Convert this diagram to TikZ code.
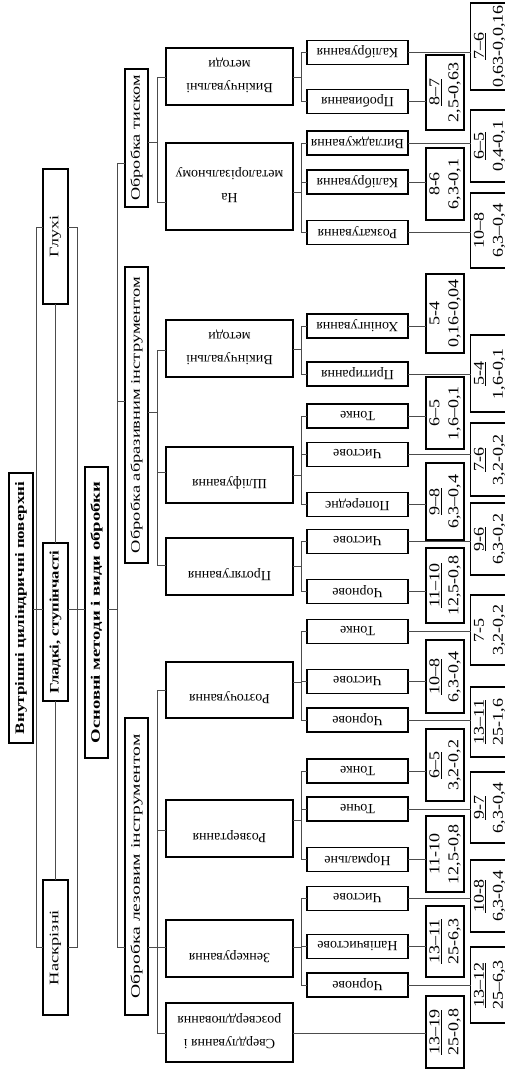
\documentclass[tikz,border=0pt]{standalone}
\usepackage{fontspec}
\setmainfont{Liberation Serif}
\usepackage{graphicx}
\newcommand\vfit[2]{\rotatebox{90}{\resizebox{#1}{\height}{#2}}}
\newcommand\ud[1]{\rotatebox[origin=c]{180}{#1}}
\newcommand\udm[1]{\ud{#1}\rule{0pt}{25pt}}
\newcommand\udd[2]{\rotatebox[origin=c]{180}{\begin{tabular}{@{}c@{}}#1\\#2\end{tabular}}}
\newcommand\nfr[2]{\rotatebox{90}{\scalebox{1.2}[1]{\begin{tabular}{@{}c@{}}\underline{#1}\\#2\end{tabular}}}}
\newcommand\npl[2]{\rotatebox{90}{\scalebox{1.2}[1]{\begin{tabular}{@{}c@{}}#1\\#2\end{tabular}}}}
\begin{document}
\begin{tikzpicture}[x=1pt,y=-1pt,
  bx/.style={draw=black,line width=1.4pt,fill=white,inner sep=0pt,outer sep=0pt},
  sz/.style 2 args={minimum width=#1,minimum height=#2},
  lab/.style={bx,font=\fontsize{13}{15}\selectfont},
  labb/.style={bx,font=\fontsize{13}{15}\selectfont\bfseries},
  meth/.style={bx,sz={127pt}{#1},font=\fontsize{14}{23}\selectfont},
  op/.style={bx,sz={101pt}{24pt},font=\fontsize{14}{17}\selectfont},
  nin/.style={bx,sz={36pt}{#1},font=\fontsize{15}{19}\selectfont},
  nout/.style={bx,sz={35pt}{#1},font=\fontsize{15}{19}\selectfont},
  conn/.style={draw=black!70,line width=0.8pt}]
\useasboundingbox (0,0) rectangle (504,1070);

% level 1-4
\node[labb,sz={24pt}{270pt}] (root) at (21,608) {\vfit{252pt}{Внутрішні циліндричні поверхні}};
\node[lab,sz={25pt}{135pt}] (glukhi) at (55.5,236.5) {\vfit{41pt}{Глухі}};
\node[labb,sz={25pt}{158pt}] (gladki) at (55.5,622) {\vfit{143pt}{Гладкі, ступінчасті}};
\node[lab,sz={25pt}{135pt}] (naskr) at (55.5,947.5) {\vfit{75pt}{Наскрізні}};
\node[labb,sz={23pt}{291pt}] (osn) at (96.5,612.5) {\vfit{262pt}{Основні методи і види обробки}};
\node[lab,sz={23pt}{138pt}] (tisk) at (136.5,138) {\vfit{125pt}{Обробка тиском}};
\node[lab,sz={23pt}{296pt}] (abr) at (136.5,415) {\vfit{276pt}{Обробка абразивним інструментом}};
\node[lab,sz={23pt}{297pt}] (lez) at (136.5,866.5) {\vfit{264pt}{Обробка лезовим інструментом}};

% methods
\node[meth=57pt] (vyk1) at (229.5,76.5) {\udd{Викінчувальні}{методи}};
\node[meth=87pt] (nametal) at (229.5,186.5) {\ud{\begin{tabular}{@{}c@{}}На\\металорізальному\\ \end{tabular}}};
\node[meth=57pt] (vyk2) at (229.5,348.5) {\udd{Викінчувальні}{методи}};
\node[meth=56pt] (shlif) at (229.5,475) {\udm{Шліфування}};
\node[meth=57pt] (protyah) at (229.5,566.5) {\udm{Протягування}};
\node[meth=56pt] (rozt) at (229.5,690) {\udm{Розточування}};
\node[meth=57pt] (rozv) at (229.5,828.5) {\udm{Розвертання}};
\node[meth=57pt] (zenk) at (229.5,948.5) {\udm{Зенкерування}};
\node[meth=59pt] (sverd) at (229.5,1032.5) {\udd{Свердлування і}{розсвердлювання}};

% operations
\node[op] (kal1) at (357.5,52.5) {\ud{Калібрування}};
\node[op] (prob) at (357.5,101.5) {\ud{Пробивання}};
\node[op] (vyhl) at (357.5,143) {\ud{Вигладжування}};
\node[op] (kal2) at (357.5,182) {\ud{Калібрування}};
\node[op] (rozk) at (357.5,232.5) {\ud{Розкатування}};
\node[op] (khon) at (357.5,326) {\ud{Хонінгування}};
\node[op] (pryt) at (357.5,374) {\ud{Притирання}};
\node[op] (tonke1) at (357.5,416) {\ud{Тонке}};
\node[op] (chyst1) at (357.5,454.5) {\ud{Чистове}};
\node[op] (poper) at (357.5,504.5) {\ud{Попереднє}};
\node[op] (chyst2) at (357.5,541.5) {\ud{Чистове}};
\node[op] (chorn2) at (357.5,591.5) {\ud{Чорнове}};
\node[op] (tonke3) at (357.5,631.5) {\ud{Тонке}};
\node[op] (chyst3) at (357.5,681.5) {\ud{Чистове}};
\node[op] (chorn3) at (357.5,720) {\ud{Чорнове}};
\node[op] (tonke4) at (357.5,771) {\ud{Тонке}};
\node[op] (tochne) at (357.5,809) {\ud{Точне}};
\node[op] (norm) at (357.5,859.5) {\ud{Нормальне}};
\node[op] (chyst5) at (357.5,898.5) {\ud{Чистове}};
\node[op] (napiv) at (357.5,946.5) {\ud{Напівчистове}};
\node[op] (chorn5) at (357.5,985) {\ud{Чорнове}};

% quality / roughness
\node[nout=87pt] (n76) at (489.5,46.5) {\nfr{7–6}{0,63-0,0,16}};
\node[nin=75pt] (n87) at (445,92.5) {\nfr{8–7}{2,5-0,63}};
\node[nout=72pt] (n65a) at (489.5,146) {\nfr{6–5}{0,4-0,1}};
\node[nin=72pt] (n86) at (445,184) {\npl{8-6}{6,3-0,1}};
\node[nout=75pt] (n108a) at (489.5,230.5) {\npl{10–8}{6,3–0,4}};
\node[nin=79pt] (n54a) at (445,313.5) {\npl{5-4}{0,16-0,04}};
\node[nout=77pt] (n54b) at (489.5,373.5) {\nfr{5-4}{1,6-0,1}};
\node[nin=72pt] (n65b) at (445,413) {\npl{6–5}{1,6–0,1}};
\node[nout=73pt] (n76b) at (489.5,459.5) {\nfr{7-6}{3,2-0,2}};
\node[nin=77pt] (n98) at (445,501.5) {\nfr{9–8}{6,3–0,4}};
\node[nout=72pt] (n96) at (489.5,539) {\nfr{9-6}{6,3-0,2}};
\node[nin=75pt] (n1110a) at (445,585.5) {\nfr{11–10}{12,5-0,8}};
\node[nout=70pt] (n75) at (489.5,630) {\npl{7-5}{3,2-0,2}};
\node[nin=73pt] (n108b) at (445,676.5) {\nfr{10–8}{6,3-0,4}};
\node[nout=70pt] (n1311a) at (489.5,722) {\nfr{13–11}{25-1,6}};
\node[nin=72pt] (n65c) at (445,765) {\nfr{6–5}{3,2-0,2}};
\node[nout=71pt] (n97) at (489.5,807.5) {\nfr{9-7}{6,3-0,4}};
\node[nin=76pt] (n1110b) at (445,854) {\npl{11-10}{12,5-0,8}};
\node[nout=72pt] (n108c) at (489.5,896) {\nfr{10-8}{6,3-0,4}};
\node[nin=71pt] (n1311b) at (445,941.5) {\nfr{13–11}{25-6,3}};
\node[nout=76pt] (n1312) at (489.5,985) {\nfr{13–12}{25–6,3}};
\node[nin=72pt] (n1319) at (445,1032) {\nfr{13–19}{25-0,8}};

% connectors level 1-4
\draw[conn] (root.east |- 0,609) -- (gladki.west |- 0,609);
\draw[conn] (gladki.east |- 0,609) -- (osn.west |- 0,609);
\draw[conn] (glukhi.west |- 0,227) -- ++(-7,0) |- (naskr.west |- 0,947);
\draw[conn] (glukhi.east |- 0,227) -- ++(9,0) |- (naskr.east |- 0,947);
\draw[conn] (glukhi.south) -- (gladki.north);
\draw[conn] (gladki.south) -- (naskr.north);
\draw[conn] (osn.east |- 0,609) -- ++(9,0);
\draw[conn] (tisk.west |- 0,163) -- ++(-8,0) |- (lez.west |- 0,947);
\draw[conn] (abr.west |- 0,401) -- ++(-8,0);

% level 4-5
\draw[conn] (tisk.east |- 0,142) -- ++(9,0);
\draw[conn] (vyk1.west |- 0,77) -- ++(-9,0) |- (nametal.west |- 0,202);
\draw[conn] (abr.east |- 0,412) -- ++(9,0);
\draw[conn] (vyk2.west |- 0,350) -- ++(-9,0) |- (protyah.west |- 0,565);
\draw[conn] (shlif.west |- 0,472) -- ++(-9,0);
\draw[conn] (rozt.west |- 0,690) -- ++(-9,0) |- (sverd.west |- 0,1033);
\draw[conn] (rozv.west |- 0,830) -- ++(-9,0);
\draw[conn] (lez.east |- 0,947) -- (zenk.west |- 0,947);

% level 5-6
\draw[conn] (vyk1.east |- 0,77) -- ++(8,0);
\draw[conn] (kal1.west) -- ++(-6,0) |- (prob.west);
\draw[conn] (nametal.east |- 0,192) -- ++(8,0);
\draw[conn] (vyhl.west) -- ++(-6,0) |- (rozk.west);
\draw[conn] (kal2.west) -- ++(-6,0);
\draw[conn] (vyk2.east |- 0,349) -- ++(8,0);
\draw[conn] (khon.west) -- ++(-6,0) |- (pryt.west);
\draw[conn] (shlif.east |- 0,475) -- ++(8,0);
\draw[conn] (tonke1.west) -- ++(-6,0) |- (poper.west);
\draw[conn] (chyst1.west) -- ++(-6,0);
\draw[conn] (protyah.east |- 0,566) -- ++(8,0);
\draw[conn] (chyst2.west) -- ++(-6,0) |- (chorn2.west);
\draw[conn] (rozt.east |- 0,682) -- ++(8,0);
\draw[conn] (tonke3.west) -- ++(-6,0) |- (chorn3.west);
\draw[conn] (chyst3.west) -- ++(-6,0);
\draw[conn] (rozv.east |- 0,820) -- ++(8,0);
\draw[conn] (tonke4.west) -- ++(-6,0) |- (norm.west);
\draw[conn] (tochne.west) -- ++(-6,0);
\draw[conn] (zenk.east |- 0,947) -- ++(8,0);
\draw[conn] (chyst5.west) -- ++(-6,0) |- (chorn5.west);
\draw[conn] (napiv.west) -- ++(-6,0);
\draw[conn] (sverd.east |- 0,1033) -- (n1319.west |- 0,1033);

% level 6-7
\draw[conn] (kal1.east) -- (n76.west |- kal1.east);
\draw[conn] (prob.east) -- (n87.west |- prob.east);
\draw[conn] (vyhl.east) -- (n65a.west |- vyhl.east);
\draw[conn] (kal2.east) -- (n86.west |- kal2.east);
\draw[conn] (rozk.east) -- (n108a.west |- rozk.east);
\draw[conn] (khon.east) -- (n54a.west |- khon.east);
\draw[conn] (pryt.east) -- (n54b.west |- pryt.east);
\draw[conn] (tonke1.east) -- (n65b.west |- tonke1.east);
\draw[conn] (chyst1.east) -- (n76b.west |- chyst1.east);
\draw[conn] (poper.east) -- (n98.west |- poper.east);
\draw[conn] (chyst2.east) -- (n96.west |- chyst2.east);
\draw[conn] (chorn2.east) -- (n1110a.west |- chorn2.east);
\draw[conn] (tonke3.east) -- (n75.west |- tonke3.east);
\draw[conn] (chyst3.east) -- (n108b.west |- chyst3.east);
\draw[conn] (chorn3.east) -- (n1311a.west |- chorn3.east);
\draw[conn] (tonke4.east) -- (n65c.west |- tonke4.east);
\draw[conn] (tochne.east) -- (n97.west |- tochne.east);
\draw[conn] (norm.east) -- (n1110b.west |- norm.east);
\draw[conn] (chyst5.east) -- (n108c.west |- chyst5.east);
\draw[conn] (napiv.east) -- (n1311b.west |- napiv.east);
\draw[conn] (chorn5.east) -- (n1312.west |- chorn5.east);
\end{tikzpicture}
\end{document}
